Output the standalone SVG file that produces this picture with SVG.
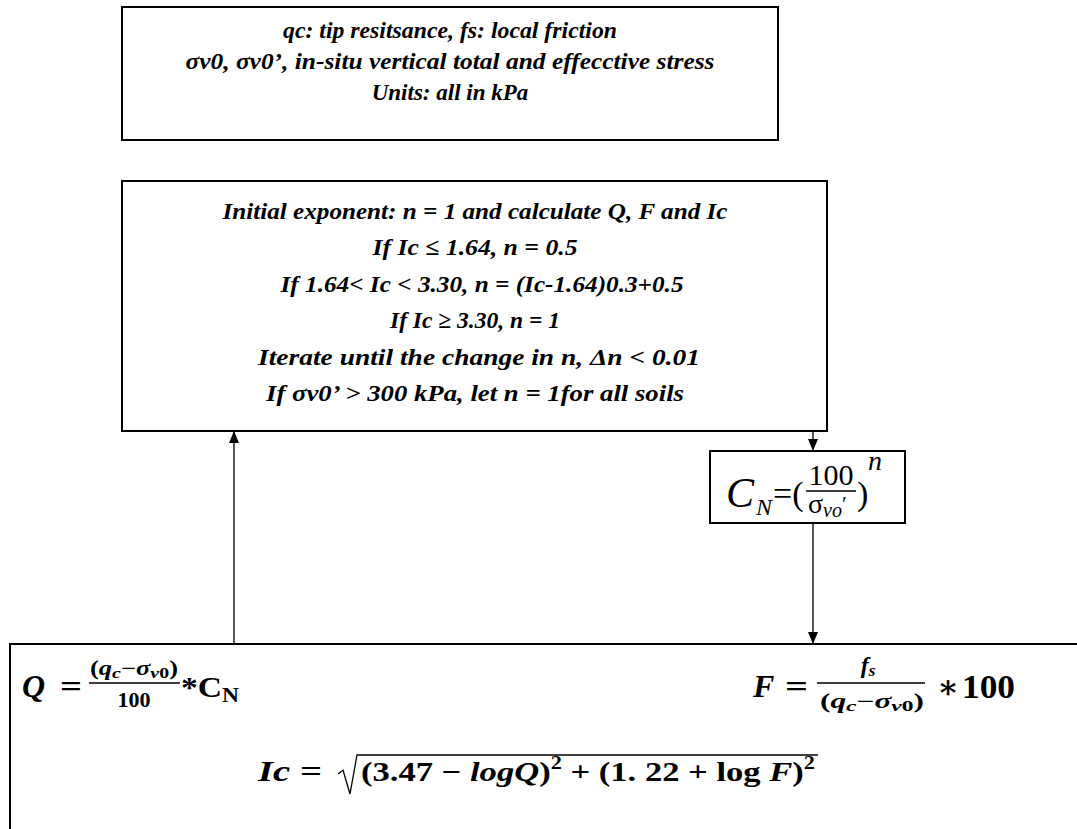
<svg xmlns="http://www.w3.org/2000/svg" width="1077" height="829" viewBox="0 0 1077 829">
<defs>
<marker id="arr" viewBox="0 0 12 10" markerWidth="12" markerHeight="10" refX="12" refY="5" orient="auto" markerUnits="userSpaceOnUse">
<path d="M0,0 L12,5 L0,10 z" fill="#000"/>
</marker>
</defs>
<style>
.box{fill:#fff;stroke:#000;stroke-width:2}
.t{font-family:"Liberation Serif",serif;font-weight:bold;font-style:italic;text-anchor:middle;fill:#000}
.m{font-family:"Liberation Serif","DejaVu Serif",serif;fill:#000}
.b{font-weight:bold}
.i{font-style:italic}
.conn{stroke:#000;stroke-width:1.3;fill:none}
.bar{stroke:#000;stroke-width:1.4}
</style>
<rect width="1077" height="829" fill="#fff"/>
<g id="node-inputs">
<rect class="box" x="122" y="7" width="656" height="133"/>
<text class="t" font-size="23" x="450" y="38" textLength="334" lengthAdjust="spacingAndGlyphs">qc: tip resitsance, fs: local friction</text>
<text class="t" font-size="23" x="450" y="69" textLength="529" lengthAdjust="spacingAndGlyphs">σv0, σv0’, in-situ vertical total and effecctive stress</text>
<text class="t" font-size="23" x="450" y="100">Units: all in kPa</text>
</g>
<g id="node-iteration">
<rect class="box" x="122" y="181" width="705" height="250"/>
<text class="t" font-size="24" x="475" y="219" textLength="505" lengthAdjust="spacingAndGlyphs">Initial exponent: n = 1 and calculate Q, F and Ic</text>
<text class="t" font-size="24" x="475" y="255" textLength="205" lengthAdjust="spacingAndGlyphs">If Ic ≤ 1.64, n = 0.5</text>
<text class="t" font-size="24" x="482" y="292" textLength="403" lengthAdjust="spacingAndGlyphs">If 1.64&lt; Ic &lt; 3.30, n = (Ic-1.64)0.3+0.5</text>
<text class="t" font-size="24" x="475" y="328" textLength="170" lengthAdjust="spacingAndGlyphs">If Ic ≥ 3.30, n = 1</text>
<text class="t" font-size="24" x="479" y="365" textLength="442" lengthAdjust="spacingAndGlyphs">Iterate until the change in n, Δn &lt; 0.01</text>
<text class="t" font-size="24" x="475" y="401" textLength="418" lengthAdjust="spacingAndGlyphs">If σv0’ &gt; 300 kPa, let n = 1for all soils</text>
</g>
<g id="node-cn">
<rect class="box" x="710" y="451" width="195" height="72"/>
<text class="m i" font-size="42" x="726" y="507">C</text>
<text class="m i" font-size="24" x="756" y="515">N</text>
<text class="m" font-size="34" x="773" y="505">=(</text>
<text class="m" font-size="30" x="831" y="485" text-anchor="middle">100</text>
<line class="bar" x1="806" y1="491" x2="856" y2="491"/>
<text class="m" font-size="28" x="808" y="513">σ<tspan class="i" font-size="20" dy="4">vo</tspan><tspan font-size="22" dy="-6">′</tspan></text>
<text class="m" font-size="34" x="857" y="505">)</text>
<text class="m i" font-size="28" x="868" y="470">n</text>
</g>
<g id="node-formulas">
<path class="box" d="M10,829 V644 H1077"/>
<text class="m b i" font-size="32" x="22" y="697">Q</text>
<text class="m b" font-size="32" x="60" y="697" textLength="22" lengthAdjust="spacingAndGlyphs">=</text>
<text class="m b" font-size="20" x="90" y="675" textLength="88" lengthAdjust="spacingAndGlyphs">(<tspan class="i">q</tspan><tspan class="i" font-size="15" dy="3">c</tspan><tspan dy="-3">−</tspan><tspan class="i">σ</tspan><tspan class="i" font-size="15" dy="3">v</tspan><tspan font-size="15">0</tspan><tspan dy="-3">)</tspan></text>
<line class="bar" x1="89" y1="683" x2="180" y2="683"/>
<text class="m b" font-size="22" x="134" y="707" text-anchor="middle">100</text>
<text class="m b" font-size="30" x="181" y="697" textLength="58" lengthAdjust="spacingAndGlyphs">*C<tspan font-size="21" dy="5">N</tspan></text>
<text class="m b i" font-size="32" x="753" y="697">F</text>
<text class="m b" font-size="32" x="785" y="697" textLength="23" lengthAdjust="spacingAndGlyphs">=</text>
<text class="m b i" font-size="24" x="868" y="673" text-anchor="middle">f<tspan font-size="17" dy="3">s</tspan></text>
<line class="bar" x1="817" y1="683" x2="925" y2="683"/>
<text class="m b" font-size="20" x="820" y="708" textLength="104" lengthAdjust="spacingAndGlyphs">(<tspan class="i">q</tspan><tspan class="i" font-size="15" dy="3">c</tspan><tspan dy="-3">−</tspan><tspan class="i">σ</tspan><tspan class="i" font-size="15" dy="3">v</tspan><tspan font-size="15">0</tspan><tspan dy="-3">)</tspan></text>
<text class="m b" font-size="32" x="937" y="698">∗</text>
<text class="m b" font-size="34" x="962" y="698" textLength="53" lengthAdjust="spacingAndGlyphs">100</text>
<text class="m b" font-size="30" x="258" y="781" textLength="64" lengthAdjust="spacingAndGlyphs"><tspan class="i">Ic</tspan> =</text>
<path class="conn" stroke-width="1.6" d="M338,774 L343,770 L350,794 L357,755 H818"/>
<text class="m b" font-size="28" x="361" y="781" textLength="454" lengthAdjust="spacingAndGlyphs">(3.47 − <tspan class="i">logQ</tspan>)<tspan font-size="18" dy="-12">2</tspan><tspan dy="12"> + (1. 22 + log </tspan><tspan class="i">F</tspan>)<tspan font-size="18" dy="-12">2</tspan></text>
</g>
<g id="connectors">
<line class="conn" x1="234" y1="644" x2="234" y2="431" marker-end="url(#arr)"/>
<line class="conn" x1="813" y1="431" x2="813" y2="451" marker-end="url(#arr)"/>
<line class="conn" x1="813" y1="523" x2="813" y2="644" marker-end="url(#arr)"/>
</g>
</svg>
